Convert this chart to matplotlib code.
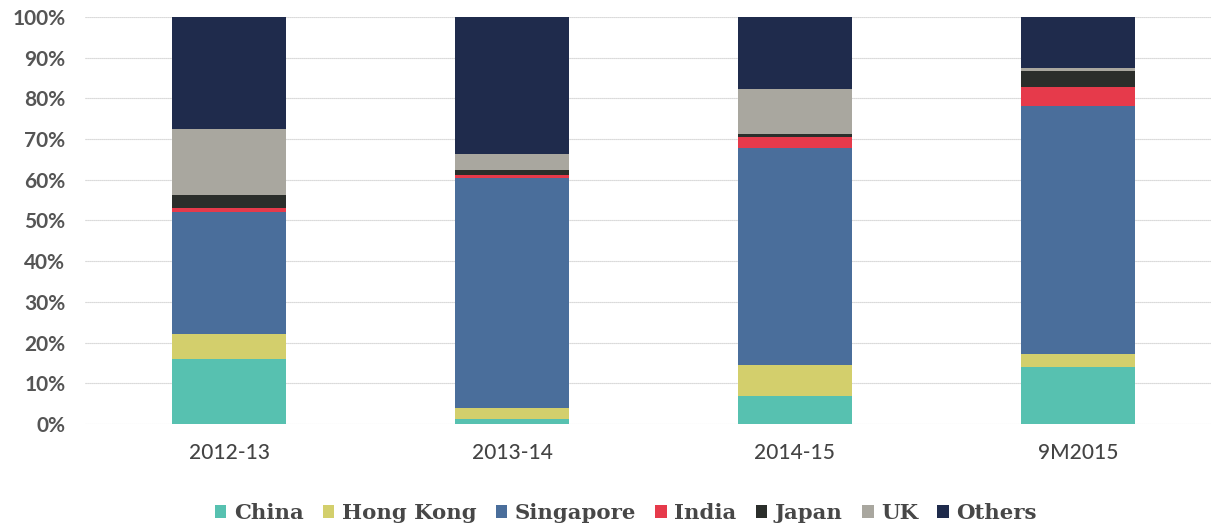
import matplotlib
matplotlib.use("Agg")
import matplotlib.pyplot as plt
from matplotlib.font_manager import FontProperties
import numpy as np

periods = ["2012-13", "2013-14", "2014-15", "9M2015"]
series_names = ["China", "Hong Kong", "Singapore", "India", "Japan", "UK", "Others"]

# shares of FDI inflows by source, in %
china = [16.0, 1.2, 6.8, 14.0]
hong_kong = [6.0, 2.8, 7.6, 3.2]
singapore = [30.0, 56.4, 53.5, 60.8]
india = [1.0, 0.8, 2.6, 4.8]
japan = [3.3, 1.2, 0.7, 3.8]
uk = [16.2, 3.8, 11.0, 0.8]
others = [27.5, 33.8, 17.8, 12.6]

colors = ["#57c1b0", "#d3cf6c", "#4a6e9b", "#e63a4b", "#2b2e2b", "#a9a79f", "#1f2b4c"]

values = [china, hong_kong, singapore, india, japan, uk, others]

plt.rcParams["font.family"] = ["Lato", "DejaVu Sans"]

fig = plt.figure(figsize=(12.15, 5.26), dpi=100)
ax = fig.add_axes([0.0697, 0.194, 0.927, 0.774])

x = np.arange(len(periods))
bottom = np.zeros(len(periods))
handles = []
for name, vals, c in zip(series_names, values, colors):
    v = np.array(vals) / 100.0
    h = ax.bar(x, v, bottom=bottom, width=0.40, color=c, label=name, zorder=3)
    handles.append(h)
    bottom += v

ax.set_ylim(0, 1.0)
ax.set_xlim(-0.51, 3.47)
ticks = np.arange(0, 1.01, 0.1)
ax.set_yticks(ticks)
ax.set_yticklabels([f"{int(round(t*100))}%" for t in ticks], fontweight="bold")
ax.set_xticks(x)
ax.set_xticklabels(periods, fontweight="medium")
ax.tick_params(axis="y", length=0, pad=14, labelsize=15, labelcolor="#555555")
ax.tick_params(axis="x", length=0, pad=14, labelsize=15, labelcolor="#444444")
ax.grid(axis="y", color="#c4c4c4", linewidth=0.8, linestyle=(0, (1, 0.8)), zorder=0)
for s in ax.spines.values():
    s.set_visible(False)

legend_font = FontProperties(family=["DejaVu Serif"], size=15.3, weight="bold")
fig.legend(handles=handles, labels=series_names, loc="center", bbox_to_anchor=(0.515, 0.025),
           ncol=7, frameon=False, handlelength=0.55, handleheight=0.55, handletextpad=0.35,
           columnspacing=0.9, prop=legend_font, labelcolor="#474747")

fig.savefig("out.png", dpi=100, facecolor="white")
